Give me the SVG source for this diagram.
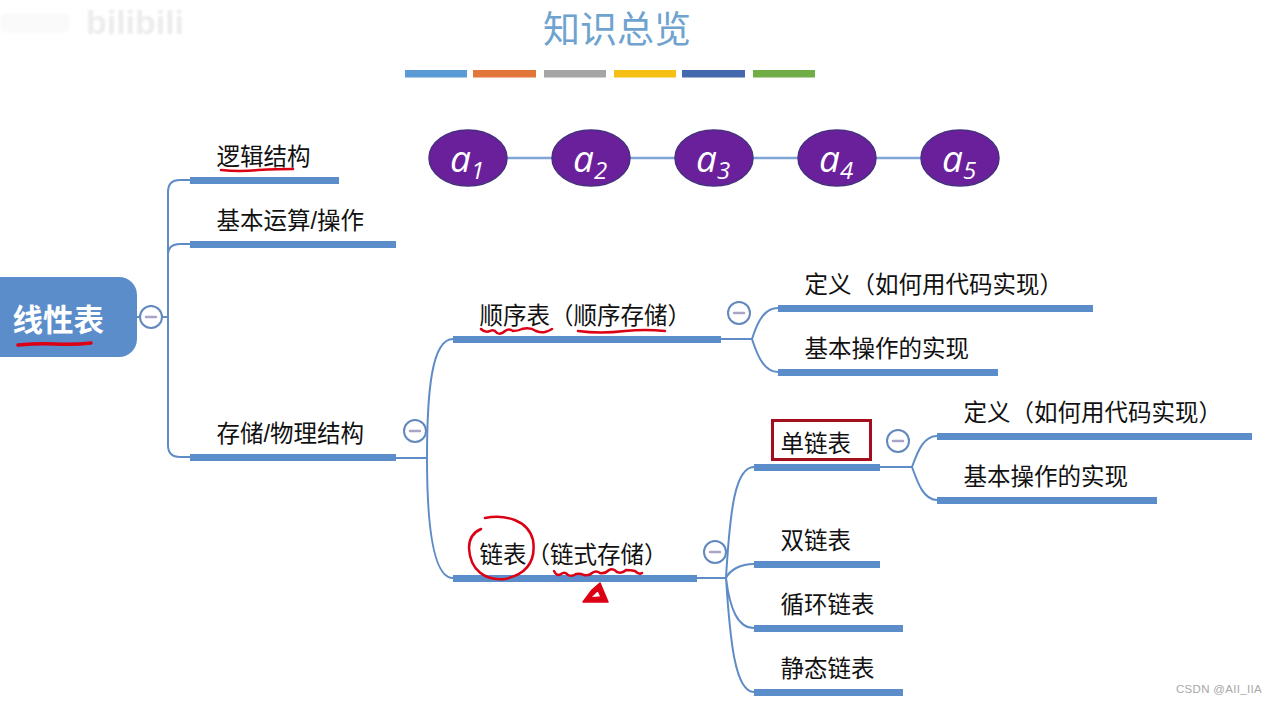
<svg xmlns="http://www.w3.org/2000/svg" width="1273" height="704" viewBox="0 0 1273 704">
<style>
text{font-family:"Liberation Sans","Noto Sans CJK SC",sans-serif}
.l{font-size:23.5px;fill:#111}
.b{fill:#5b8dcb}
.c{fill:none;stroke:#5f8cc6;stroke-width:2}
.t{fill:#fff;stroke:#6288bd;stroke-width:2}
.m{stroke:#a9a5c4;stroke-width:2.5;stroke-linecap:round}
.e{fill:#6a1f9b;stroke:#46307f;stroke-width:1.5}
.a{font-family:"Open Sans",sans-serif;font-style:italic;fill:#fff;font-size:37px}
.s{font-size:24px}
.r{fill:none;stroke:#dc0014;stroke-width:2.5;stroke-linecap:round;stroke-linejoin:round}
</style>
<defs><filter id="soft" x="-10%" y="-30%" width="120%" height="160%"><feGaussianBlur stdDeviation="1"/></filter></defs>
<rect width="1273" height="704" fill="#fff"/>
<g id="watermark" filter="url(#soft)">
<text x="86" y="34" font-size="34" font-weight="700" fill="#ececec" textLength="98" lengthAdjust="spacingAndGlyphs">bilibili</text>
<rect x="0" y="13" width="70" height="20" rx="6" fill="#fafafa"/>
</g>
<g id="title">
<text x="543" y="43" font-size="37" fill="#6fa3cf">知识总览</text>
<rect x="405" y="70" width="62" height="7.500" fill="#5b9bd5"/>
<rect x="473" y="70" width="63" height="7.500" fill="#e2763a"/>
<rect x="544" y="70" width="62" height="7.500" fill="#a5a5a5"/>
<rect x="614" y="70" width="62" height="7.500" fill="#f5c013"/>
<rect x="682" y="70" width="63" height="7.500" fill="#4468ad"/>
<rect x="753" y="70" width="62" height="7.500" fill="#70ad47"/>
</g>
<g id="connectors">
<path class="c" d="M137 317H168M168 317V192Q168 180 180 180H190M168 255Q168 244 180 244H190M168 317V445Q168 457 180 457H190"/>
<path class="c" d="M396 458H427M427 458C427 390 432 339 453 339M427 458C427 520 432 578 453 578"/>
<path class="c" d="M721 339H752M752 339C758 320 765 308 778 308M752 339C758 358 765 372 778 372"/>
<path class="c" d="M697 578H726M726 578C730 510 735 467 754 467M726 578C730 570 740 564 754 564M726 578C730 610 738 628 754 628M726 578C730 640 735 692 754 692"/>
<path class="c" d="M880 467H912M912 467C918 450 924 436 937 436M912 467C918 484 924 500 937 500"/>
<path d="M507 158H552M630 158H675M753 158H798M876 158H921" fill="none" stroke="#7fa6d6" stroke-width="2.500"/>
</g>
<g id="root">
<rect x="-20" y="277" width="157" height="80" rx="18" class="b"/>
<text x="12.500" y="331" font-size="30.500" font-weight="700" fill="#fff">线性表</text>
</g>
<g id="toggles">
<g id="toggle-root"><circle class="t" cx="151" cy="317" r="11"/><path class="m" d="M146 317H156"/></g>
<g id="toggle-storage"><circle class="t" cx="415" cy="431" r="11"/><path class="m" d="M410 431H420"/></g>
<g id="toggle-seq"><circle class="t" cx="739" cy="313" r="11"/><path class="m" d="M734 313H744"/></g>
<g id="toggle-linked"><circle class="t" cx="715" cy="552" r="11"/><path class="m" d="M710 552H720"/></g>
<g id="toggle-single"><circle class="t" cx="898" cy="441" r="11"/><path class="m" d="M893 441H903"/></g>
</g>
<g id="n-logic"><rect class="b" x="190" y="177" width="149" height="7"/><text class="l" x="216.500" y="165">逻辑结构</text></g>
<g id="n-ops"><rect class="b" x="190" y="241" width="206" height="7"/><text class="l" x="216.500" y="229">基本运算/操作</text></g>
<g id="n-storage"><rect class="b" x="190" y="454" width="206" height="7"/><text class="l" x="216.500" y="442">存储/物理结构</text></g>
<g id="n-seq"><rect class="b" x="453" y="336" width="268" height="7"/><text class="l" x="479.500" y="324">顺序表（顺序存储）</text></g>
<g id="n-linked"><rect class="b" x="453" y="575" width="244" height="7"/><text class="l" x="479.500" y="563">链表（链式存储）</text></g>
<g id="n-seq-def"><rect class="b" x="778" y="305" width="315" height="7"/><text class="l" x="804.500" y="293">定义（如何用代码实现）</text></g>
<g id="n-seq-impl"><rect class="b" x="778" y="369" width="220" height="7"/><text class="l" x="804.500" y="357">基本操作的实现</text></g>
<g id="n-single"><rect class="b" x="754" y="464" width="126" height="7"/><rect x="772.500" y="420.500" width="98" height="39" fill="none" stroke="#a30f1c" stroke-width="3"/><text class="l" x="780.500" y="452">单链表</text></g>
<g id="n-double"><rect class="b" x="754" y="561" width="126" height="7"/><text class="l" x="780.500" y="549">双链表</text></g>
<g id="n-circular"><rect class="b" x="754" y="625" width="149" height="7"/><text class="l" x="780.500" y="613">循环链表</text></g>
<g id="n-static"><rect class="b" x="754" y="689" width="149" height="7"/><text class="l" x="780.500" y="677">静态链表</text></g>
<g id="n-single-def"><rect class="b" x="937" y="433" width="315" height="7"/><text class="l" x="963.500" y="421">定义（如何用代码实现）</text></g>
<g id="n-single-impl"><rect class="b" x="937" y="497" width="220" height="7"/><text class="l" x="963.500" y="485">基本操作的实现</text></g>
<g id="a1"><ellipse class="e" cx="468" cy="158" rx="39" ry="28"/><text class="a" x="450" y="172">a<tspan class="s" dy="7">1</tspan></text></g>
<g id="a2"><ellipse class="e" cx="591" cy="158" rx="39" ry="28"/><text class="a" x="573" y="172">a<tspan class="s" dy="7">2</tspan></text></g>
<g id="a3"><ellipse class="e" cx="714" cy="158" rx="39" ry="28"/><text class="a" x="696" y="172">a<tspan class="s" dy="7">3</tspan></text></g>
<g id="a4"><ellipse class="e" cx="837" cy="158" rx="39" ry="28"/><text class="a" x="819" y="172">a<tspan class="s" dy="7">4</tspan></text></g>
<g id="a5"><ellipse class="e" cx="960" cy="158" rx="39" ry="28"/><text class="a" x="942" y="172">a<tspan class="s" dy="7">5</tspan></text></g>
<g id="annotations">
<path class="r" style="stroke-width:3.500" d="M18 345Q40 343 55 344Q75 345 91 343"/>
<path class="r" d="M221 170Q240 172 258 170Q278 169 293 169"/>
<path class="r" d="M481 329Q485 333 490 331Q494 329 497 333Q501 335 505 331Q509 328 513 331Q518 331 522 329Q530 327 536 331Q541 333 545 332Q549 331 552 329"/>
<path class="r" d="M578 331Q600 334 625 331Q645 329 665 331"/>
<path class="r" d="M485 518C505 514 528 520 533 540C536 560 528 574 505 579C485 581 470 570 469 548C469 538 474 532 481 529"/>
<path class="r" d="M554 571Q557 577 561 574Q565 571 568 575Q572 577 576 574Q580 573 584 575Q589 576 592 573Q596 570 600 573Q605 574 609 570Q613 568 617 572Q622 574 626 570Q631 570 635 571Q639 575 642 573"/>
<path d="M583 602L592 590L600 583L608 602ZM590 598L601 597L598 590Z" fill="#dc0014" fill-rule="evenodd" stroke="#dc0014" stroke-width="1.500" stroke-linejoin="round"/>
</g>
<text x="1176" y="693" font-size="11.500" fill="#a8a8a8" letter-spacing=".3">CSDN @AII_IIA</text>
</svg>
